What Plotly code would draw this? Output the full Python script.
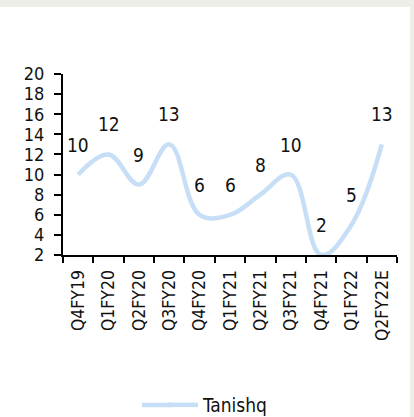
import plotly.graph_objects as go

categories = ["Q4FY19", "Q1FY20", "Q2FY20", "Q3FY20", "Q4FY20", "Q1FY21",
              "Q2FY21", "Q3FY21", "Q4FY21", "Q1FY22", "Q2FY22E"]
tanishq = [10, 12, 9, 13, 6, 6, 8, 10, 2, 5, 13]
series_name = "Tanishq"
y_ticks = list(range(2, 21, 2))

FONT = "DejaVu Sans Condensed, Arial Narrow, sans-serif"
LINE_COLOR = "#C6DEF6"
W, H = 414, 417
L, R, T, B = 63, 17, 74, 162
pw, ph = W - L - R, H - T - B

fig = go.Figure()
fig.add_trace(go.Scatter(
    x=categories, y=tanishq, mode="lines", name=series_name,
    line=dict(color=LINE_COLOR, width=4.5, shape="spline", smoothing=1.1),
))

for c, v in zip(categories, tanishq):
    fig.add_annotation(x=c, y=v, text=str(v), showarrow=False, yshift=30,
                       font=dict(family=FONT, size=19, color="#111111"))

# frame: grey border at top and right
fig.add_shape(type="rect", xref="paper", yref="paper",
              x0=(0 - L) / pw, x1=(410 - L) / pw,
              y0=(H - B - 417) / ph, y1=(H - B - 7) / ph,
              fillcolor="white", line=dict(width=0), layer="below")

# longer legend sample (extension to the left of plotly's legend symbol)
fig.add_shape(type="line", xref="paper", yref="paper",
              x0=(142 - L) / pw, x1=(172 - L) / pw,
              y0=(H - B - 405) / ph, y1=(H - B - 405) / ph,
              line=dict(color=LINE_COLOR, width=4.5))

fig.update_layout(
    width=W, height=H,
    margin=dict(l=L, r=R, t=T, b=B, autoexpand=False),
    paper_bgcolor="#EEEEE9", plot_bgcolor="rgba(0,0,0,0)",
    font=dict(family=FONT, size=18, color="#111111"),
    showlegend=True,
    legend=dict(orientation="h", xref="container", yref="container",
                x=163 / W, xanchor="left",
                y=1 - 405 / H, yanchor="middle",
                bgcolor="rgba(0,0,0,0)", font=dict(size=19)),
)
fig.update_xaxes(
    type="category", range=[-0.5, len(categories) - 0.5],
    showline=True, linecolor="black", linewidth=2,
    ticks="outside", tickson="boundaries", ticklen=6, tickwidth=2, tickcolor="black",
    tickangle=-90, showgrid=False, zeroline=False, ticklabelstandoff=6,
    tickfont=dict(size=17.5), automargin=False,
)
fig.update_yaxes(
    range=[2, 20], tickvals=y_ticks,
    showline=True, linecolor="black", linewidth=2,
    ticks="outside", ticklen=7, tickwidth=2, tickcolor="black",
    showgrid=False, zeroline=False, ticklabelstandoff=6,
    tickfont=dict(size=18), automargin=False,
)

fig.write_html("out.html")
